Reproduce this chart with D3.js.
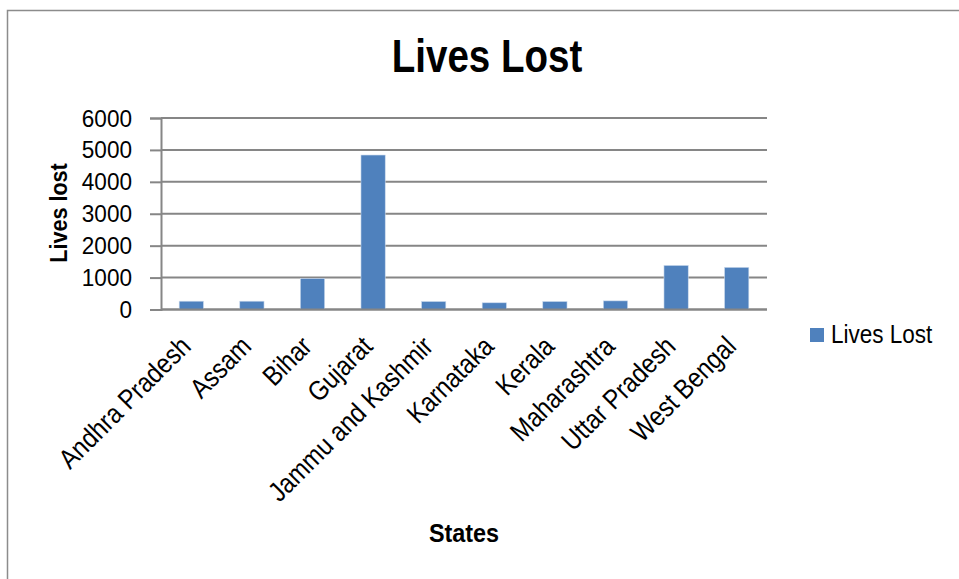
<!DOCTYPE html>
<html><head><meta charset="utf-8">
<script src="https://cdn.jsdelivr.net/npm/d3@7"></script>
<style>
html,body{margin:0;padding:0;background:#fff;}
svg{display:block;}
text{font-family:"Liberation Sans",Arial,sans-serif;fill:#000;}
</style></head>
<body>
<script>
const categories = ["Andhra Pradesh","Assam","Bihar","Gujarat","Jammu and Kashmir","Karnataka","Kerala","Maharashtra","Uttar Pradesh","West Bengal"];
const livesLost = [260, 260, 970, 4840, 250, 210, 250, 270, 1380, 1320];
const yTicks = [0, 1000, 2000, 3000, 4000, 5000, 6000];
const seriesName = "Lives Lost";
const titleText = "Lives Lost";
const xTitle = "States";
const yTitle = "Lives lost";

const W = 959, H = 579;
const svg = d3.select("body").append("svg").attr("width", W).attr("height", H);

// outer chart border
svg.append("rect").attr("x", 7.5).attr("y", 10.5).attr("width", 1000).attr("height", 1000)
  .attr("fill", "#fff").attr("stroke", "#8c8c8c").attr("stroke-width", 1.5);

const plot = {left: 161, right: 767, top: 118, bottom: 309.5};
const x = d3.scaleBand().domain(categories).range([plot.left, plot.right]).paddingInner(0.6).paddingOuter(0.3);
const y = d3.scaleLinear().domain([0, 6000]).range([plot.bottom, plot.top]);

// gridlines
svg.append("g").selectAll("line").data(yTicks).join("line")
  .attr("x1", plot.left).attr("x2", plot.right)
  .attr("y1", d => y(d)).attr("y2", d => y(d))
  .attr("stroke", "#868686").attr("stroke-width", 2);

// y axis (line + ticks), labels drawn separately for narrow styling
const yAxis = svg.append("g").attr("transform", `translate(${plot.left},0)`)
  .call(d3.axisLeft(y).tickValues(yTicks).tickSize(11).tickFormat(""));
yAxis.select(".domain").attr("stroke", "#868686").attr("stroke-width", 2);
yAxis.selectAll(".tick line").attr("stroke", "#868686").attr("stroke-width", 2);

svg.append("g").selectAll("text").data(yTicks).join("text")
  .attr("transform", d => `translate(132,${y(d) + 8.5}) scale(0.94,1)`)
  .attr("text-anchor", "end").attr("font-size", 24).text(d3.format("d"));

// bars
svg.append("g").selectAll("rect").data(livesLost).join("rect")
  .attr("x", (d, i) => x(categories[i]))
  .attr("y", d => y(d))
  .attr("width", x.bandwidth())
  .attr("height", d => y(0) - y(d))
  .attr("fill", "#4F81BD")
  .attr("stroke", "#c9d8ec").attr("stroke-width", 0.6);

// x axis line
svg.append("line").attr("x1", plot.left).attr("x2", plot.right)
  .attr("y1", y(0)).attr("y2", y(0)).attr("stroke", "#868686").attr("stroke-width", 2);

// category labels
svg.append("g").selectAll("text").data(categories).join("text")
  .attr("transform", d => `translate(${x(d) + x.bandwidth() / 2 + 1},348) rotate(-45) scale(0.87,1)`)
  .attr("text-anchor", "end").attr("font-size", 27.5).text(d => d);

// title
svg.append("text").attr("transform", "translate(487,72) scale(0.82,1)").attr("text-anchor", "middle")
  .attr("font-size", 47).attr("font-weight", "bold").text(titleText);

// axis titles
svg.append("text").attr("transform", `translate(67,213) rotate(-90) scale(0.9,1)`).attr("text-anchor", "middle")
  .attr("font-size", 24).attr("font-weight", "bold").text(yTitle);
svg.append("text").attr("transform", "translate(464,542) scale(0.9,1)").attr("text-anchor", "middle")
  .attr("font-size", 26).attr("font-weight", "bold").text(xTitle);

// legend
svg.append("rect").attr("x", 810).attr("y", 328).attr("width", 14).attr("height", 14).attr("fill", "#4F81BD");
svg.append("text").attr("transform", "translate(831,343) scale(0.9,1)").attr("font-size", 25).text(seriesName);
</script>
</body></html>
